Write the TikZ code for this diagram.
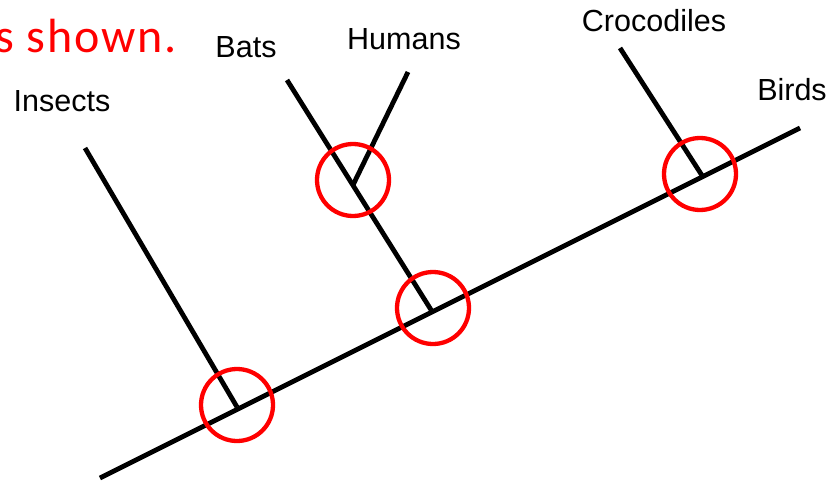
\documentclass[tikz,border=0pt]{standalone}
\usepackage{fontspec}
\setmainfont{Liberation Sans}
\newfontfamily\calfont[LetterSpace=4]{Carlito}
\begin{document}
\begin{tikzpicture}[x=1pt,y=-1pt,
  branch/.style={line width=4.8pt,black},
  ring/.style={circle,draw=red,line width=4.3pt,minimum size=72pt,inner sep=0pt},
  taxon/.style={anchor=base,font=\fontsize{30.5}{32}\selectfont,inner sep=0pt}]
\useasboundingbox (0,0) rectangle (834,484);
% tree coordinates
\coordinate (root) at (100,478);
\coordinate (birdsEnd) at (800,128);
\coordinate (j1) at (237,407);
\coordinate (j2) at (433,313);
\coordinate (j3) at (353,185);
\coordinate (j4) at (703,177);
\coordinate (insEnd) at (85,148);
\coordinate (batEnd) at (287,80);
\coordinate (humEnd) at (408,72);
\coordinate (croEnd) at (620,48);
% branches
\draw[branch] (root) -- (birdsEnd);
\draw[branch] (insEnd) -- (j1);
\draw[branch] (batEnd) -- (j2);
\draw[branch] (humEnd) -- (j3);
\draw[branch] (croEnd) -- (j4);
% circles
\node[ring] (c1) at (237,405) {};
\node[ring] (c2) at (433,308) {};
\node[ring] (c3) at (353,180) {};
\node[ring] (c4) at (700,174) {};
% labels
\node[taxon] (insects) at (62,112) {Insects};
\node[taxon] (bats) at (246,58) {Bats};
\node[taxon] (humans) at (404,50) {Humans};
\node[taxon] (croc) at (654,32) {Crocodiles};
\node[taxon] (birds) at (792,100) {Birds};
% partial red caption
\node[anchor=base west,inner sep=0pt,text=red,font=\calfont\fontsize{48}{50}\selectfont] (caption) at (-5,53) {s shown.};
\end{tikzpicture}
\end{document}
